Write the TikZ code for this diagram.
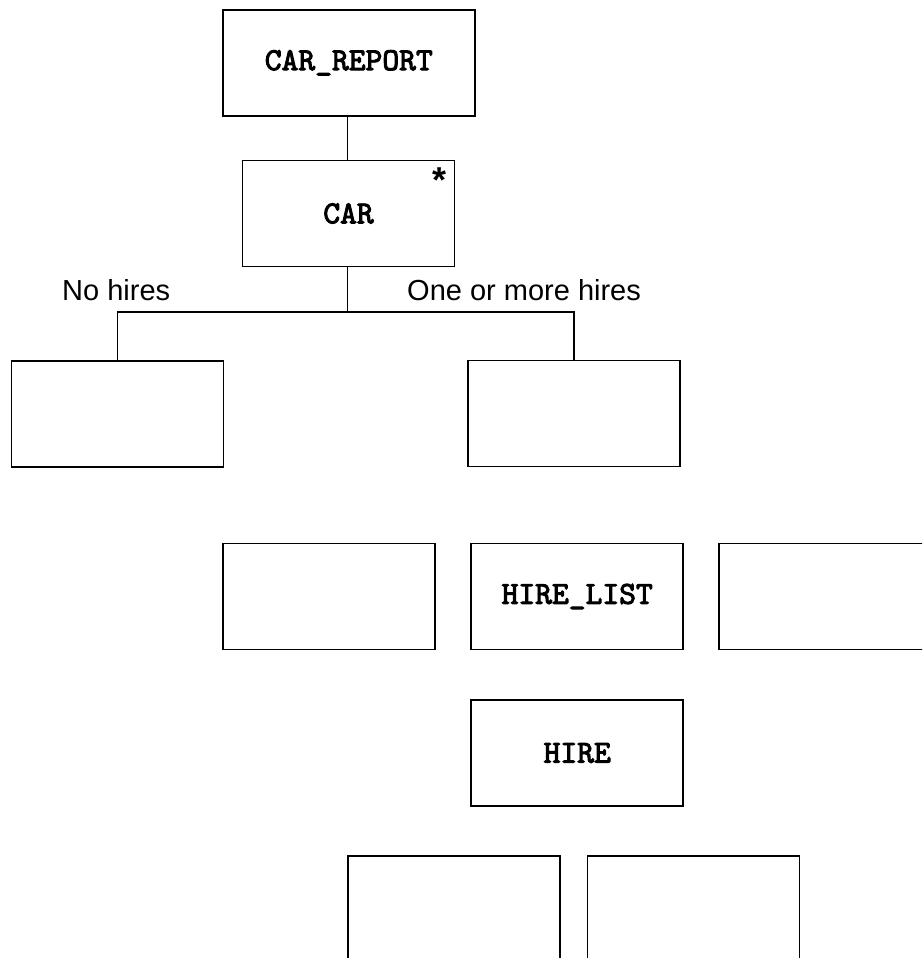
\documentclass[tikz,border=0pt]{standalone}
\usepackage{fontspec}
\setmainfont{Liberation Sans}
\setsansfont{Liberation Sans}
\newfontfamily\courb{lmmono10-regular.otf}[FakeBold=3]
\begin{document}
\begin{tikzpicture}[x=1pt,y=-1pt,
  box/.style={draw=black,line width=1.8pt,rectangle,minimum width=212pt,minimum height=106pt,inner sep=0pt,
    font=\courb\fontsize{32}{38}\selectfont},
  lbl/.style={inner sep=0pt,font=\sffamily\fontsize{29}{35}\selectfont},
  link/.style={line width=1.8pt}]
\useasboundingbox (0,0) rectangle (922,958);
\clip (0,0) rectangle (922,958);
\node[box,minimum width=252pt] (report) at (348.8,62.8) {CAR\_REPORT};
\node[box] (car) at (348.5,213.5) {CAR};
\node[inner sep=0pt,anchor=north,font=\sffamily\bfseries\fontsize{36}{40}\selectfont] (star) at (439.5,168) {*};
\node[box] (none) at (117.5,413.8) {};
\node[box] (some) at (573.8,413.5) {};
\node[lbl,anchor=base west] (nolbl) at (62,300) {No hires};
\node[lbl,anchor=base west] (somelbl) at (407,300) {One or more hires};
\node[box] (ra) at (328.8,596.5) {};
\node[box] (hlist) at (577.2,596.5) {HIRE\_LIST};
\node[box] (rc) at (824.7,596.5) {};
\node[box] (hire) at (577.2,753) {HIRE};
\node[box,minimum height=160pt] (ba) at (454,936) {};
\node[box,minimum height=160pt] (bb) at (693.5,936) {};
\coordinate (j) at (347.5,312);
\draw[link] (report.south -| j) -- (car.north -| j);
\draw[link] (car.south -| j) -- (j);
\draw[link] (none.north) |- (j) -| (some.north);
\end{tikzpicture}
\end{document}
